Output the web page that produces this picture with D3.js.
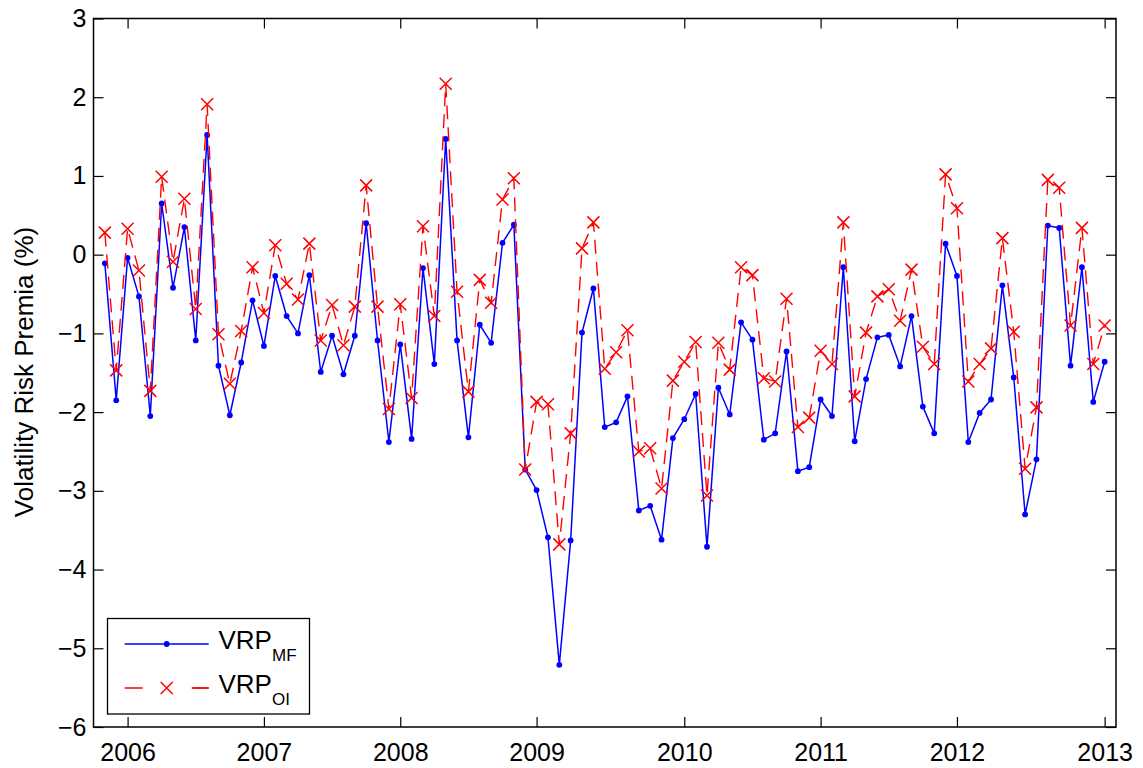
<!DOCTYPE html>
<html>
<head>
<meta charset="utf-8">
<script src="https://cdn.jsdelivr.net/npm/d3@7"></script>
<style>
  html, body { margin: 0; padding: 0; background: #fff; }
  svg { display: block; font-family: "Liberation Sans", Arial, Helvetica, sans-serif; }
</style>
</head>
<body>
<svg id="chart" width="1143" height="768"></svg>
<script>
// ---- data (observation index 0..88, monthly-ish from late 2005 to early 2013) ----
const vrpMF = [
  -0.11, -1.85, -0.04, -0.53, -2.05, 0.65, -0.42, 0.35, -1.09, 1.52,
  -1.41, -2.04, -1.37, -0.58, -1.16, -0.27, -0.78, -1.00, -0.26, -1.49,
  -1.03, -1.52, -1.03, 0.40, -1.09, -2.38, -1.14, -2.34, -0.17, -1.39,
  1.47, -1.09, -2.32, -0.89, -1.12, 0.15, 0.38, -2.73, -2.99, -3.59,
  -5.21, -3.63, -0.99, -0.43, -2.19, -2.13, -1.80, -3.25, -3.19, -3.62,
  -2.33, -2.09, -1.77, -3.71, -1.69, -2.03, -0.86, -1.08, -2.35, -2.27,
  -1.23, -2.75, -2.70, -1.84, -2.05, -0.16, -2.37, -1.58, -1.05, -1.02,
  -1.42, -0.78, -1.93, -2.27, 0.14, -0.27, -2.38, -2.01, -1.84, -0.39,
  -1.56, -3.30, -2.60, 0.37, 0.34, -1.41, -0.16, -1.87, -1.36
];
const vrpOI = [
  0.28, -1.47, 0.33, -0.20, -1.73, 0.99, -0.09, 0.71, -0.69, 1.91,
  -1.01, -1.64, -0.97, -0.16, -0.74, 0.12, -0.37, -0.57, 0.14, -1.09,
  -0.64, -1.15, -0.66, 0.88, -0.66, -1.96, -0.63, -1.82, 0.36, -0.78,
  2.17, -0.47, -1.74, -0.32, -0.61, 0.70, 0.97, -2.73, -1.87, -1.90,
  -3.68, -2.27, 0.08, 0.41, -1.45, -1.24, -0.96, -2.50, -2.46, -2.97,
  -1.60, -1.36, -1.11, -3.06, -1.12, -1.46, -0.16, -0.26, -1.57, -1.61,
  -0.56, -2.19, -2.07, -1.22, -1.39, 0.41, -1.80, -0.99, -0.53, -0.44,
  -0.84, -0.19, -1.17, -1.39, 1.02, 0.59, -1.61, -1.39, -1.19, 0.21,
  -0.98, -2.72, -1.94, 0.95, 0.85, -0.90, 0.34, -1.39, -0.90
];
const xTickIndex = [2, 14, 26, 38, 51, 63, 75, 88];
const xTickLabels = ["2006", "2007", "2008", "2009", "2010", "2011", "2012", "2013"];
const yTicks = [-6, -5, -4, -3, -2, -1, 0, 1, 2, 3];
const seriesNames = [["VRP", "MF"], ["VRP", "OI"]];
const yLabel = "Volatility Risk Premia (%)";

// ---- layout ----
const svg = d3.select("#chart");
const L = 93.5, R = 1116, T = 18.5, B = 727;
const x = d3.scaleLinear().domain([-1, 89]).range([L, R]);
const y = d3.scaleLinear().domain([-6, 3]).range([B, T]);
const tickLen = 10;
const fmt = d => (d < 0 ? "\u2212" + Math.abs(d) : String(d));

svg.append("rect").attr("x", L).attr("y", T).attr("width", R - L).attr("height", B - T)
  .attr("fill", "#fff");

const axBottom = d3.axisBottom(x).tickValues(xTickIndex)
  .tickFormat((d, i) => xTickLabels[i]).tickSizeInner(-tickLen).tickSizeOuter(0).tickPadding(16);
const axTop = d3.axisTop(x).tickValues(xTickIndex).tickFormat("").tickSizeInner(-tickLen).tickSizeOuter(0);
const axLeft = d3.axisLeft(y).tickValues(yTicks).tickFormat(fmt).tickSizeInner(-tickLen).tickSizeOuter(0).tickPadding(7);
const axRight = d3.axisRight(y).tickValues(yTicks).tickFormat("").tickSizeInner(-tickLen).tickSizeOuter(0);

function style(g, fs) {
  g.selectAll(".domain").remove();
  g.selectAll(".tick line").attr("stroke", "#000").attr("stroke-width", 1.2);
  g.selectAll(".tick text").attr("fill", "#000").attr("font-size", fs)
    .attr("font-family", "'Liberation Sans', Arial, Helvetica, sans-serif");
}
svg.append("g").attr("transform", `translate(0,${B})`).call(axBottom).call(g => style(g, 25))
  .selectAll(".tick text").attr("dy", "0.71em");
svg.append("g").attr("transform", `translate(0,${T})`).call(axTop).call(g => style(g, 25));
svg.append("g").attr("transform", `translate(${L},0)`).call(axLeft).call(g => style(g, 25));
svg.append("g").attr("transform", `translate(${R},0)`).call(axRight).call(g => style(g, 25));

const idx = d3.range(vrpMF.length);
const plot = svg.append("g");
plot.append("path").datum(idx)
  .attr("d", d3.line().x(i => x(i)).y(i => y(vrpMF[i])))
  .attr("fill", "none").attr("stroke", "#0000ff").attr("stroke-width", 1.5);
plot.append("g").selectAll("circle").data(idx).join("circle")
  .attr("cx", i => x(i)).attr("cy", i => y(vrpMF[i])).attr("r", 2.9).attr("fill", "#0000ff");

plot.append("path").datum(idx)
  .attr("d", d3.line().x(i => x(i)).y(i => y(vrpOI[i])))
  .attr("fill", "none").attr("stroke", "#ff0000").attr("stroke-width", 1.4)
  .attr("stroke-dasharray", "14,8");
const xs = 6;
function cross(g, cx, cy) {
  g.append("path")
    .attr("d", `M${cx - xs},${cy - xs}L${cx + xs},${cy + xs}M${cx - xs},${cy + xs}L${cx + xs},${cy - xs}`)
    .attr("stroke", "#ff0000").attr("stroke-width", 1.5).attr("fill", "none");
}
const crossG = plot.append("g");
idx.forEach(i => cross(crossG, x(i), y(vrpOI[i])));

svg.append("rect").attr("x", L).attr("y", T).attr("width", R - L).attr("height", B - T)
  .attr("fill", "none").attr("stroke", "#000").attr("stroke-width", 1.5);

svg.append("text")
  .attr("transform", `translate(33,${372}) rotate(-90)`)
  .attr("text-anchor", "middle").attr("font-size", 26).attr("fill", "#000")
  .text(yLabel);

const lg = svg.append("g");
lg.append("rect").attr("x", 107.5).attr("y", 618.5).attr("width", 202).attr("height", 95.5)
  .attr("fill", "#fff").attr("stroke", "#000").attr("stroke-width", 1.3);
const rows = [644, 688];
lg.append("line").attr("x1", 124.7).attr("x2", 208.7).attr("y1", rows[0]).attr("y2", rows[0])
  .attr("stroke", "#0000ff").attr("stroke-width", 1.5);
lg.append("circle").attr("cx", 166.7).attr("cy", rows[0]).attr("r", 2.9).attr("fill", "#0000ff");
lg.append("line").attr("x1", 124.7).attr("x2", 208.7).attr("y1", rows[1]).attr("y2", rows[1])
  .attr("stroke", "#ff0000").attr("stroke-width", 1.4).attr("stroke-dasharray", "18,49");
lg.append("line").attr("x1", 193).attr("x2", 208.7).attr("y1", rows[1]).attr("y2", rows[1])
  .attr("stroke", "#ff0000").attr("stroke-width", 1.4);
cross(lg, 166.7, rows[1]);

seriesNames.forEach((nm, k) => {
  const t = lg.append("text").attr("x", 218.5).attr("y", rows[k] + 5)
    .attr("font-size", 26).attr("fill", "#000");
  t.append("tspan").text(nm[0]);
  t.append("tspan").attr("font-size", 17).attr("dy", 12).text(nm[1]);
});
</script>
</body>
</html>
